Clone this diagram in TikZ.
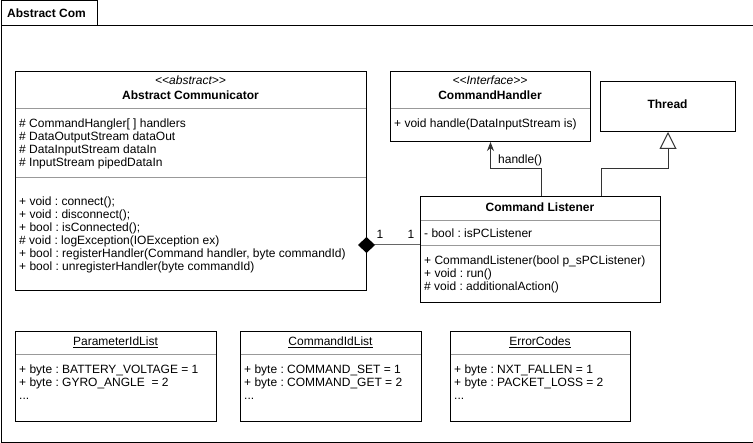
\documentclass[tikz,border=0pt]{standalone}
\usepackage{fontspec}
\setmainfont{Liberation Sans}
\usetikzlibrary{arrows.meta}
\frenchspacing
\begin{document}
\begin{tikzpicture}[x=1pt,y=-1pt,
  box/.style={draw=black, line width=1pt, fill=white, inner sep=0pt, anchor=north west},
  sepline/.style={draw=black!40, line width=1pt},
  tl/.style={inner sep=0pt, anchor=base west, font=\fontsize{12}{14}\selectfont},
  tc/.style={inner sep=0pt, anchor=base, font=\fontsize{12}{14}\selectfont},
  tb/.style={tc, font=\fontsize{12}{14}\selectfont\bfseries},
  ts/.style={tc, font=\fontsize{12}{14}\selectfont\itshape},
  tu/.style={tc},
  conn/.style={draw=black!80, line width=1pt},
  comp/.style={draw=black!60, line width=1pt},
  ]
\useasboundingbox (0,0) rectangle (753,443);
% frame
\node[box, minimum width=96pt, minimum height=25pt] (tab) at (0.5,0.5) {};
\node[box, minimum width=752pt, minimum height=417pt] (frame) at (0.5,25) {};
\node[tl, font=\fontsize{12}{14}\selectfont\bfseries] (tabt) at (7,18) {Abstract Com};

% Abstract Communicator
\node[box, minimum width=351pt, minimum height=219pt] (ac) at (15,71) {};
\draw[sepline] (15.5,109) -- (365.5,109);
\draw[sepline] (15.5,178) -- (365.5,178);
\node[ts] (acst) at (190.5,85) {<\kern0pt<abstract>\kern0pt>};
\node[tb] (acname) at (190.5,100) {Abstract Communicator};
\node[tl] (aca1) at (19,128) {\# CommandHangler[ ] handlers};
\node[tl] (aca2) at (19,141) {\# DataOutputStream dataOut};
\node[tl] (aca3) at (19,154) {\# DataInputStream dataIn};
\node[tl] (aca4) at (19,167) {\# InputStream pipedDataIn};
\node[tl] (acm1) at (19,205.5) {+ void : connect();};
\node[tl] (acm2) at (19,218.5) {+ void : disconnect();};
\node[tl] (acm3) at (19,231.5) {+ bool : isConnected();};
\node[tl] (acm4) at (19,244.5) {\# void : logException(IOException ex)};
\node[tl] (acm5) at (19,257.5) {+ bool : registerHandler(Command handler, byte commandId)};
\node[tl] (acm6) at (19,270.5) {+ bool : unregisterHandler(byte commandId)};

% CommandHandler
\node[box, minimum width=200pt, minimum height=70pt] (ch) at (390,71) {};
\draw[sepline] (390.5,109) -- (589.5,109);
\node[ts] (chst) at (490,85) {<\kern0pt<Interface>\kern0pt>};
\node[tb] (chname) at (490,100) {CommandHandler};
\node[tl] (chm1) at (394,128) {+ void handle(DataInputStream is)};

% Thread
\node[box, minimum width=135pt, minimum height=50pt] (th) at (600,81) {};
\node[tb] (thname) at (667.5,109) {Thread};

% Command Listener
\node[box, minimum width=240pt, minimum height=106pt] (cl) at (420,196) {};
\draw[sepline] (420.5,221) -- (659.5,221);
\draw[sepline] (420.5,246) -- (659.5,246);
\node[tb] (clname) at (540,212) {Command Listener};
\node[tl] (cla1) at (424,237.5) {- bool : isPCListener};
\node[tl] (clm1) at (424,265) {+ CommandListener(bool p\_sPCListener)};
\node[tl] (clm2) at (424,278) {+ void : run()};
\node[tl] (clm3) at (424,291) {\# void : additionalAction()};

% bottom boxes
\node[box, minimum width=201pt, minimum height=90pt] (pil) at (15,331) {};
\draw[sepline] (15.5,355) -- (215.5,355);
\node[tu] (pilname) at (115.5,346) {\underline{ParameterIdList}};
\node[tl] (pil1) at (19,374) {+ byte : BATTERY\_VOLTAGE = 1};
\node[tl] (pil2) at (19,387) {+ byte : GYRO\_ANGLE~ = 2};
\node[tl] (pil3) at (19,400) {...};

\node[box, minimum width=181pt, minimum height=90pt] (cil) at (240,331) {};
\draw[sepline] (240.5,355) -- (420.5,355);
\node[tu] (cilname) at (330.5,346) {\underline{CommandIdList}};
\node[tl] (cil1) at (244,374) {+ byte : COMMAND\_SET = 1};
\node[tl] (cil2) at (244,387) {+ byte : COMMAND\_GET = 2};
\node[tl] (cil3) at (244,400) {...};

\node[box, minimum width=180pt, minimum height=90pt] (ec) at (450,331) {};
\draw[sepline] (450.5,355) -- (629.5,355);
\node[tu] (ecname) at (540,346) {\underline{ErrorCodes}};
\node[tl] (ec1) at (454,374) {+ byte : NXT\_FALLEN = 1};
\node[tl] (ec2) at (454,387) {+ byte : PACKET\_LOSS = 2};
\node[tl] (ec3) at (454,400) {...};

% connectors
\draw[conn, -{Stealth[length=9pt,width=7pt]}] ([xshift=121pt]cl.north west) -- ++(0,-27) -| (ch.south);
\node[tl] (hl) at (498,164) {handle()};
\draw[conn, -{Triangle[open, length=17pt, width=17pt, fill=white]}] ([xshift=181pt]cl.north west) -- ++(0,-27) -| (th.south);

\coordinate (cstart) at ([yshift=-174pt]ac.north east);
\draw[comp, {Diamond[length=17pt, width=16pt, fill=black, color=black]}-] ([xshift=-9pt]cstart) -- (cl.west |- cstart);
\node[tc] (m1) at (380,239) {1};
\node[tc] (m2) at (411,239) {1};
\end{tikzpicture}
\end{document}
